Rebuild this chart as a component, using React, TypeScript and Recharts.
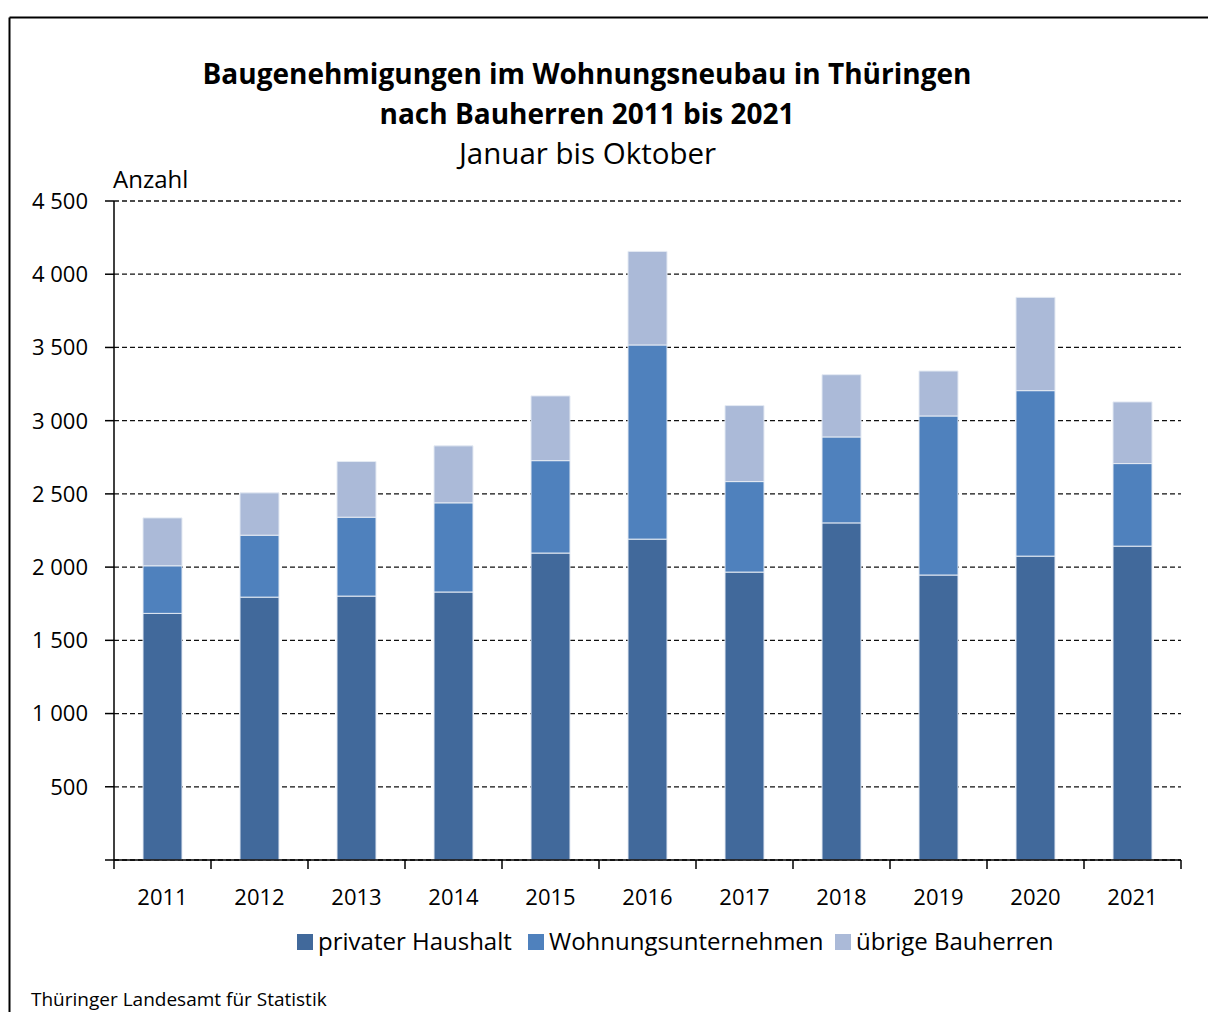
import React from 'react';
import { BarChart, Bar, XAxis, YAxis, CartesianGrid } from 'recharts';

const years = ['2011', '2012', '2013', '2014', '2015', '2016', '2017', '2018', '2019', '2020', '2021'];
const privaterHaushalt = [1684, 1795, 1802, 1830, 2096, 2191, 1966, 2302, 1946, 2075, 2143];
const wohnungsunternehmen = [325, 423, 539, 609, 631, 1326, 618, 587, 1086, 1130, 564];
const uebrigeBauherren = [327, 289, 380, 389, 442, 639, 519, 425, 307, 637, 421];
const yTicks = [0, 500, 1000, 1500, 2000, 2500, 3000, 3500, 4000, 4500];
const seriesKeys = ['privat', 'wohnung', 'uebrig'];
const seriesNames = ['privater Haushalt', 'Wohnungsunternehmen', 'übrige Bauherren'];
const seriesColors = ['#41699b', '#4f81bd', '#abbad8'];
const titleLines = ['Baugenehmigungen im Wohnungsneubau in Thüringen', 'nach Bauherren 2011 bis 2021'];
const subtitle = 'Januar bis Oktober';
const yUnit = 'Anzahl';
const source = 'Thüringer Landesamt für Statistik';

const data = years.map((year, i) => ({
  year,
  privat: privaterHaushalt[i],
  wohnung: wohnungsunternehmen[i],
  uebrig: uebrigeBauherren[i],
}));

const W = 1208;
const H = 1012;
const PLOT_LEFT = 114;
const PLOT_RIGHT = 1181;
const PLOT_TOP = 201;
const PLOT_BOTTOM = 860;
const Y_AXIS_W = 100;
const X_AXIS_H = 60;
const STEP = (PLOT_RIGHT - PLOT_LEFT) / years.length;
const FONT = '"Open Sans", "Noto Sans", sans-serif';

const fmt = (v: number) => {
  if (v === 0) return '';
  if (v >= 1000) return `${Math.floor(v / 1000)} ${String(v % 1000).padStart(3, '0')}`;
  return String(v);
};

const YTick = (props: any) => {
  const { x, y, payload } = props;
  return (
    <text x={x} y={y} dy="0.36em" textAnchor="end" fontSize={22} fontFamily={FONT} fill="#000" style={{ whiteSpace: 'pre' }}>
      {fmt(payload.value)}
    </text>
  );
};

const XTick = (props: any) => {
  const { x, y, payload, index } = props;
  const last = index === years.length - 1;
  return (
    <g>
      <line x1={x - STEP / 2} x2={x - STEP / 2} y1={y} y2={y + 9} stroke="#000" strokeWidth={1.5} />
      {last && <line x1={x + STEP / 2} x2={x + STEP / 2} y1={y} y2={y + 9} stroke="#000" strokeWidth={1.5} />}
      <text x={x} y={y + 37} dy="0.36em" textAnchor="middle" fontSize={22} fontFamily={FONT} fill="#000">
        {payload.value}
      </text>
    </g>
  );
};

const legendX = [297, 528, 835];

export default function App() {
  return (
    <div style={{ position: 'absolute', left: 0, top: 0, width: W, height: H, background: '#fff', overflow: 'hidden' }}>
      <BarChart
        width={W}
        height={H}
        data={data}
        margin={{ top: PLOT_TOP, right: W - PLOT_RIGHT, left: PLOT_LEFT - Y_AXIS_W, bottom: H - PLOT_BOTTOM - X_AXIS_H }}
      >
        <CartesianGrid
          yAxisId="left"
          vertical={false}
          stroke="#111"
          strokeDasharray="5 3"
          strokeWidth={1.3}
        />
        <XAxis
          dataKey="year"
          height={X_AXIS_H}
          tickLine={false}
          tickSize={0}
          tickMargin={0}
          axisLine={{ stroke: '#000', strokeWidth: 1.5 }}
          tick={<XTick />}
          interval={0}
        />
        <YAxis
          yAxisId="left"
          width={Y_AXIS_W}
          domain={[0, 4500]}
          ticks={yTicks}
          tickSize={9}
          tickMargin={17}
          tickLine={{ stroke: '#000', strokeWidth: 1.5 }}
          axisLine={{ stroke: '#000', strokeWidth: 1.5 }}
          tick={<YTick />}
          interval={0}
        />
        <YAxis
          yAxisId="right"
          orientation="right"
          width={0}
          domain={[0, 4500]}
          ticks={yTicks}
          tick={false}
          tickLine={false}
          axisLine={{ stroke: '#000', strokeWidth: 1.3 }}
        />
        {seriesKeys.map((k, i) => (
          <Bar
            key={k}
            yAxisId="left"
            dataKey={k}
            name={seriesNames[i]}
            stackId="a"
            fill={seriesColors[i]}
            stroke="#e4eaf3"
            strokeWidth={1}
            barSize={39}
            isAnimationActive={false}
          />
        ))}
      </BarChart>
      <svg width={W} height={H} style={{ position: 'absolute', left: 0, top: 0, pointerEvents: 'none' }}>
        <line x1={9.5} y1={17.5} x2={W} y2={17.5} stroke="#000" strokeWidth={2} />
        <line x1={9.5} y1={17.5} x2={9.5} y2={H} stroke="#000" strokeWidth={2} />
        <text x={587} y={83.5} textAnchor="middle" fontSize={28} fontWeight={700} fontFamily={FONT} fill="#000">
          {titleLines[0]}
        </text>
        <text x={587} y={124} textAnchor="middle" fontSize={28} fontWeight={700} fontFamily={FONT} fill="#000">
          {titleLines[1]}
        </text>
        <text x={587.5} y={164} textAnchor="middle" fontSize={29.5} fontFamily={FONT} fill="#000">
          {subtitle}
        </text>
        <text x={113} y={187.5} fontSize={24} fontFamily={FONT} fill="#000">
          {yUnit}
        </text>
        {seriesNames.map((n, i) => (
          <g key={n}>
            <rect x={legendX[i]} y={934} width={16} height={16} fill={seriesColors[i]} />
            <text x={legendX[i] + 21} y={950} fontSize={24} fontFamily={FONT} fill="#000">
              {n}
            </text>
          </g>
        ))}
        <text x={31} y={1006} fontSize={19} fontFamily={FONT} fill="#000">
          {source}
        </text>
      </svg>
    </div>
  );
}
